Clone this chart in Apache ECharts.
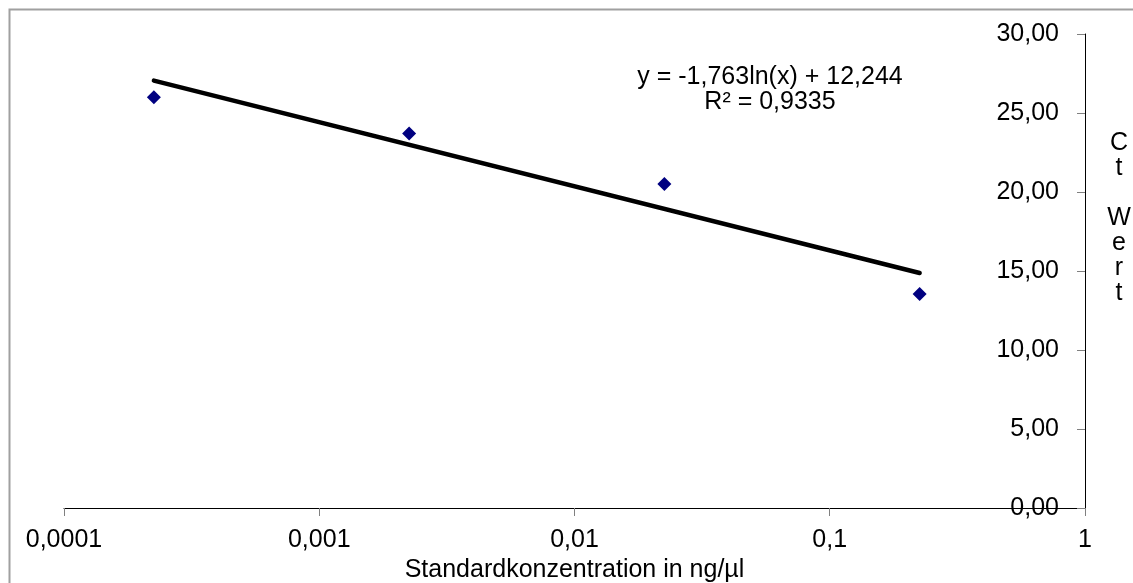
<!DOCTYPE html>
<html>
<head>
<meta charset="utf-8">
<script src="https://cdn.jsdelivr.net/npm/echarts@6/dist/echarts.min.js"></script>
<style>
  html, body { margin: 0; padding: 0; background: #fff; }
  #main { width: 1133px; height: 583px; }
</style>
</head>
<body>
<div id="main"></div>
<script>
// Messwerte (Standardkonzentration -> Ct-Wert)
var konzentration = [0.000225, 0.00225, 0.0225, 0.225];
var ctWert = [26.0, 23.7, 20.5, 13.55];

var trendX = [0.000225, 0.225];
var trendY = [27.05, 14.87];

var xTicks = ['0,0001', '0,001', '0,01', '0,1', '1'];
var trendText = ['y = -1,763ln(x) + 12,244', 'R² = 0,9335'];

var schrift = '"Liberation Sans", Arial, sans-serif';

var chart = echarts.init(document.getElementById('main'));

var option = {
    animation: false,
    backgroundColor: '#fff',
    grid: { left: 64, right: 48, top: 34, bottom: 75, outerBoundsMode: 'none', containLabel: false },
    xAxis: {
        type: 'log',
        min: 0.0001,
        max: 1,
        logBase: 10,
        name: 'Standardkonzentration in ng/µl',
        nameLocation: 'middle',
        nameGap: 50,
        nameTextStyle: { color: '#000', fontSize: 25, fontFamily: schrift },
        axisLine: { lineStyle: { color: '#000', width: 1 } },
        axisTick: { length: 8, lineStyle: { color: '#808080' } },
        minorTick: { show: false },
        splitLine: { show: false },
        axisLabel: {
            color: '#000', fontSize: 25, fontFamily: schrift, margin: 20,
            formatter: function (v) {
                var i = Math.round(Math.log10(v)) + 4;
                return xTicks[i] !== undefined ? xTicks[i] : '';
            }
        }
    },
    yAxis: {
        type: 'value',
        position: 'right',
        min: 0,
        max: 30,
        interval: 5,
        axisLine: { show: true, lineStyle: { color: '#000', width: 1 } },
        axisTick: { show: true, inside: true, length: 8, lineStyle: { color: '#808080' } },
        splitLine: { show: false },
        axisLabel: {
            inside: true, margin: 26, color: '#000', fontSize: 25, fontFamily: schrift,
            formatter: function (v) { return v.toFixed(2).replace('.', ','); }
        }
    },
    series: [
        {
            type: 'line',
            data: trendX.map(function (x, i) { return [x, trendY[i]]; }),
            showSymbol: false,
            lineStyle: { color: '#000', width: 4.5, cap: 'round' },
            z: 2
        },
        {
            type: 'scatter',
            data: konzentration.map(function (x, i) { return [x, ctWert[i]]; }),
            symbol: 'diamond',
            symbolSize: 14,
            itemStyle: { color: '#000080', opacity: 1 },
            z: 3
        }
    ],
    graphic: [
        {
            type: 'rect', left: 7, top: 7, silent: true,
            shape: { width: 1200, height: 700 },
            style: { fill: 'none', stroke: '#a0a0a0', lineWidth: 2 }
        },
        {
            type: 'text', x: 770, y: 65,
            style: {
                text: trendText.join('\n'), textAlign: 'center',
                fill: '#000', font: '25px ' + schrift, lineHeight: 25
            }
        },
        {
            type: 'text', x: 1119, y: 131,
            style: {
                text: 'C\nt\n\nW\ne\nr\nt', textAlign: 'center',
                fill: '#000', font: '25px ' + schrift, lineHeight: 25
            }
        }
    ]
};

chart.setOption(option);
</script>
</body>
</html>
